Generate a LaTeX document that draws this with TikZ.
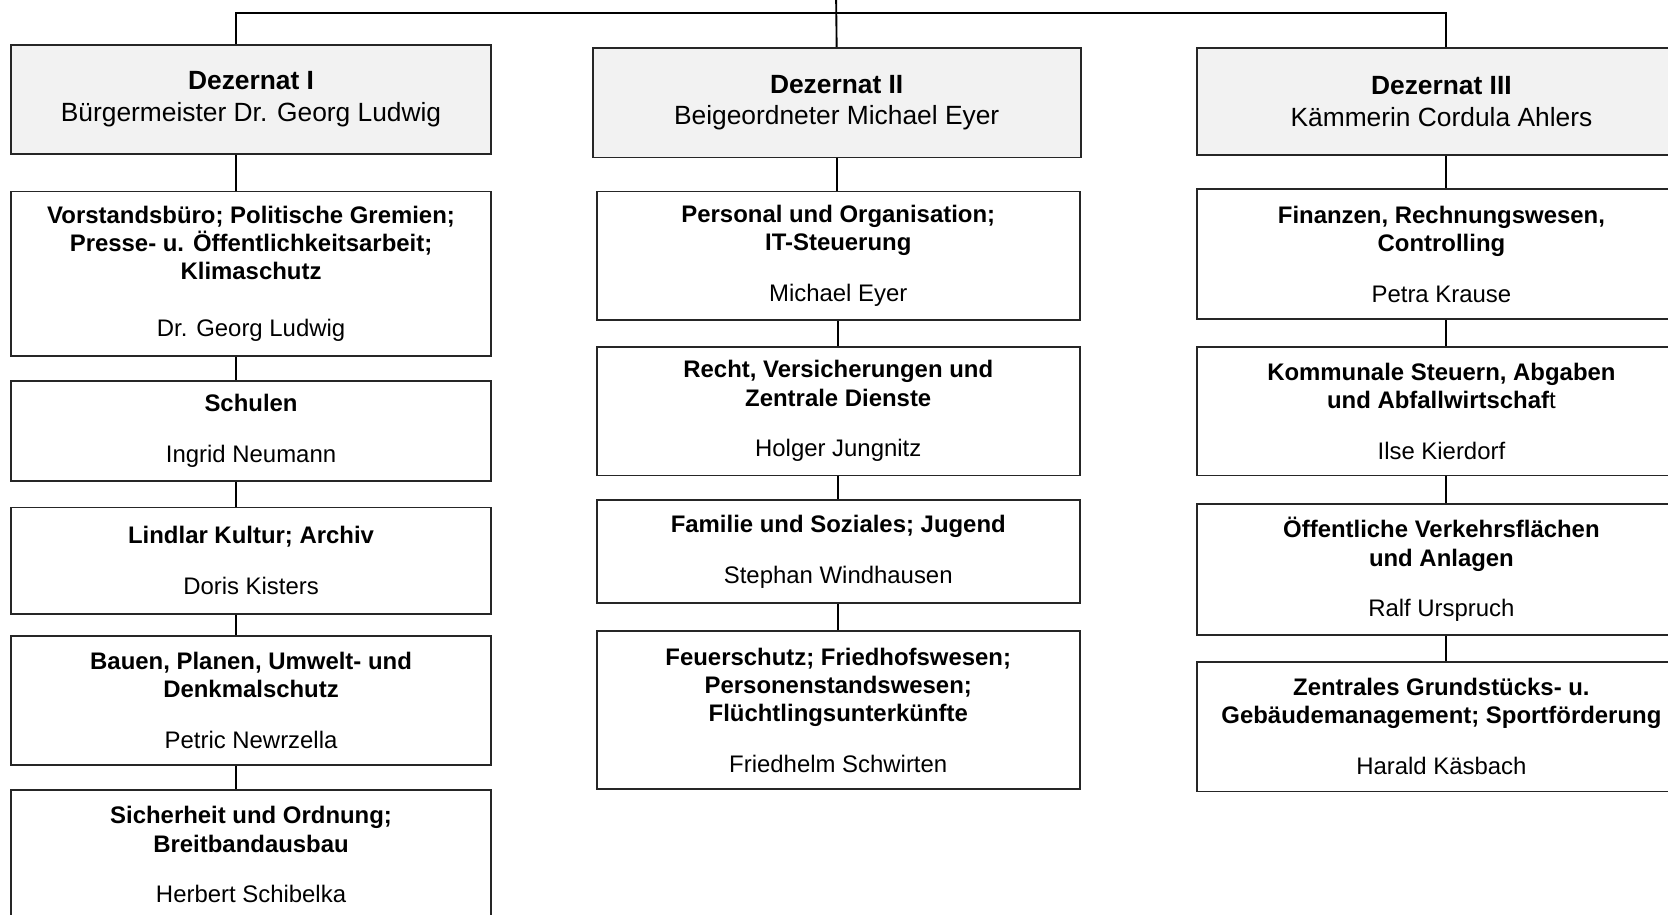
\documentclass[tikz,border=0pt]{standalone}
\usepackage{fontspec}
\setmainfont{Liberation Sans}
\begin{document}
\begin{tikzpicture}[x=0.02cm, y=-0.02cm, line width=1pt,
    unit/.style={draw=black!85, rectangle, inner sep=0pt, align=center,
        font=\fontsize{12.8}{15.1}\selectfont},
    head/.style={unit, fill=black!5, font=\fontsize{14.1}{17}\selectfont}]
    \clip (0,0) rectangle (1568,860);

    \begin{scope}[unit/.append style={minimum width=9.04cm}]
        \node[head, minimum height=2.06cm] (d1) at (236,93.5) {\textbf{Dezernat I}\\Bürgermeister Dr. Georg Ludwig};
        \node[unit, minimum height=3.10cm] (b1) at (236,257.5) {\textbf{Vorstandsbüro; Politische Gremien;}\\\textbf{Presse- u. Öffentlichkeitsarbeit;}\\\textbf{Klimaschutz}\\[15.5pt]Dr. Georg Ludwig};
        \node[unit, minimum height=1.88cm] (b2) at (236,405) {\textbf{Schulen}\\[12pt]Ingrid Neumann};
        \node[unit, minimum height=2.00cm] (b3) at (236,527) {\textbf{Lindlar Kultur; Archiv}\\[12pt]Doris Kisters};
        \node[unit, minimum height=2.42cm] (b4) at (236,658.5) {\textbf{Bauen, Planen, Umwelt- und}\\\textbf{Denkmalschutz}\\[12pt]Petric Newrzella};
        \node[unit, minimum height=2.44cm] (b5) at (236,803.5) {\textbf{Sicherheit und Ordnung;}\\\textbf{Breitbandausbau}\\[12pt]Herbert Schibelka};
    \end{scope}

    \begin{scope}[unit/.append style={minimum width=9.08cm}]
        \node[head, minimum width=9.18cm, minimum height=2.06cm] (d2) at (786.5,96.5) {\textbf{Dezernat II}\\Beigeordneter Michael Eyer};
        \node[unit, minimum height=2.42cm] (c1) at (788,240.5) {\textbf{Personal und Organisation;}\\\textbf{IT-Steuerung}\\[12pt]Michael Eyer};
        \node[unit, minimum height=2.42cm] (c2) at (788,386.5) {\textbf{Recht, Versicherungen und}\\\textbf{Zentrale Dienste}\\[12pt]Holger Jungnitz};
        \node[unit, minimum height=1.94cm] (c3) at (788,518.5) {\textbf{Familie und Soziales; Jugend}\\[12pt]Stephan Windhausen};
        \node[unit, minimum height=2.98cm] (c4) at (788,667.5) {\textbf{Feuerschutz; Friedhofswesen;}\\\textbf{Personenstandswesen;}\\\textbf{Flüchtlingsunterkünfte}\\[12pt]Friedhelm Schwirten};
    \end{scope}

    \begin{scope}[unit/.append style={minimum width=9.2cm}]
        \node[head, minimum height=2.02cm] (d3) at (1355,95.5) {\textbf{Dezernat III}\\Kämmerin Cordula Ahlers};
        \node[unit, minimum height=2.44cm] (e1) at (1355,239) {\textbf{Finanzen, Rechnungswesen,}\\\textbf{Controlling}\\[12pt]Petra Krause};
        \node[unit, minimum height=2.42cm] (e2) at (1355,386.5) {\textbf{Kommunale Steuern, Abgaben}\\\textbf{und Abfallwirtschaf}t\\[12pt]Ilse Kierdorf};
        \node[unit, minimum height=2.46cm] (e3) at (1355,535.5) {\textbf{Öffentliche Verkehrsflächen}\\\textbf{und Anlagen}\\[12pt]Ralf Urspruch};
        \node[unit, minimum height=2.44cm] (e4) at (1355,683) {\textbf{Zentrales Grundstücks- u.}\\\textbf{Gebäudemanagement; Sportförderung}\\[12pt]Harald Käsbach};
    \end{scope}

    \coordinate (top) at (786,0);
    \coordinate (bar) at (786,12);
    \draw (top) -- (d2.north);
    \draw ([xshift=-0.28cm]d1.north) |- (bar) -| ([xshift=0.08cm]d3.north);

    \foreach \a/\b/\dx in {d1/b1/-0.28cm, b1/b2/-0.28cm, b2/b3/-0.28cm, b3/b4/-0.28cm, b4/b5/-0.28cm,
        d2/c1/0cm, c1/c2/0cm, c2/c3/0cm, c3/c4/0cm,
        d3/e1/0.08cm, e1/e2/0.08cm, e2/e3/0.08cm, e3/e4/0.08cm}
        \draw ([xshift=\dx]\a.south) -- ([xshift=\dx]\a.south |- \b.north);
\end{tikzpicture}
\end{document}
